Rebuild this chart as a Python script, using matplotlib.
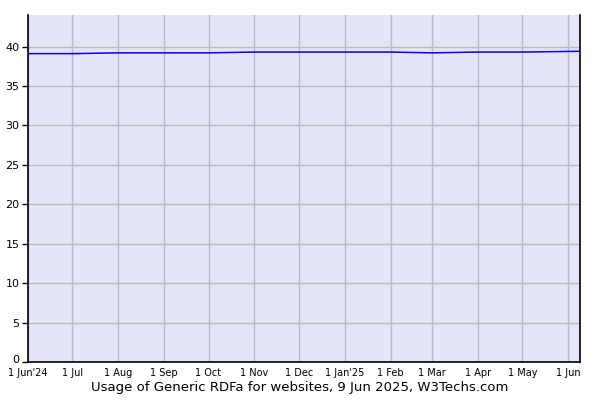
import matplotlib
matplotlib.use('Agg')
import matplotlib.pyplot as plt
import matplotlib.transforms as mtransforms
import pandas as pd

dates = pd.to_datetime(['2024-06-01', '2024-07-01', '2024-08-01', '2024-09-01', '2024-10-01',
                        '2024-11-01', '2024-12-01', '2025-01-01', '2025-02-01', '2025-03-01',
                        '2025-04-01', '2025-05-01', '2025-06-09'])
usage = [39.1, 39.1, 39.2, 39.2, 39.2, 39.3, 39.3, 39.3, 39.3, 39.2, 39.3, 39.3, 39.4]

tick_dates = pd.date_range('2024-06-01', '2025-06-01', freq='MS')
tick_labels = ["1 Jun'24", '1 Jul', '1 Aug', '1 Sep', '1 Oct', '1 Nov', '1 Dec',
               "1 Jan'25", '1 Feb', '1 Mar', '1 Apr', '1 May', '1 Jun']
y_ticks = [0, 5, 10, 15, 20, 25, 30, 35, 40]

fig = plt.figure(figsize=(6, 4), dpi=100)
ax = fig.add_axes([28/600, 1 - 362/400, 552/600, 347/400])
ax.set_facecolor('#e5e5f9')

ax.plot(dates, usage, color='#0000ff', linewidth=1.1)

ax.set_xlim(pd.Timestamp('2024-06-01'), pd.Timestamp('2025-06-09'))
ax.set_ylim(0, 44)
ax.set_xticks(tick_dates)
ax.set_xticklabels(tick_labels, fontsize=7)
ax.set_yticks(y_ticks)
ax.set_yticklabels([str(v) for v in y_ticks], fontsize=8)
ax.tick_params(axis='x', length=0, pad=4)
ax.tick_params(axis='y', length=4, width=1, pad=2)
# nudge the "0" label up a few pixels so it clears the first date label
zero = ax.get_yticklabels()[0]
zero.set_transform(zero.get_transform() + mtransforms.ScaledTranslation(0, 3/100, fig.dpi_scale_trans))

ax.grid(True, color='#bbbbbb', linewidth=1)
ax.set_axisbelow(True)
ax.spines['top'].set_visible(False)
for s in ['left', 'bottom', 'right']:
    ax.spines[s].set_color('black')
    ax.spines[s].set_linewidth(1.2)

fig.text(0.5, 1 - 388/400, 'Usage of Generic RDFa for websites, 9 Jun 2025, W3Techs.com',
         ha='center', va='center', fontsize=9.5)

fig.savefig('out.png', dpi=100)
